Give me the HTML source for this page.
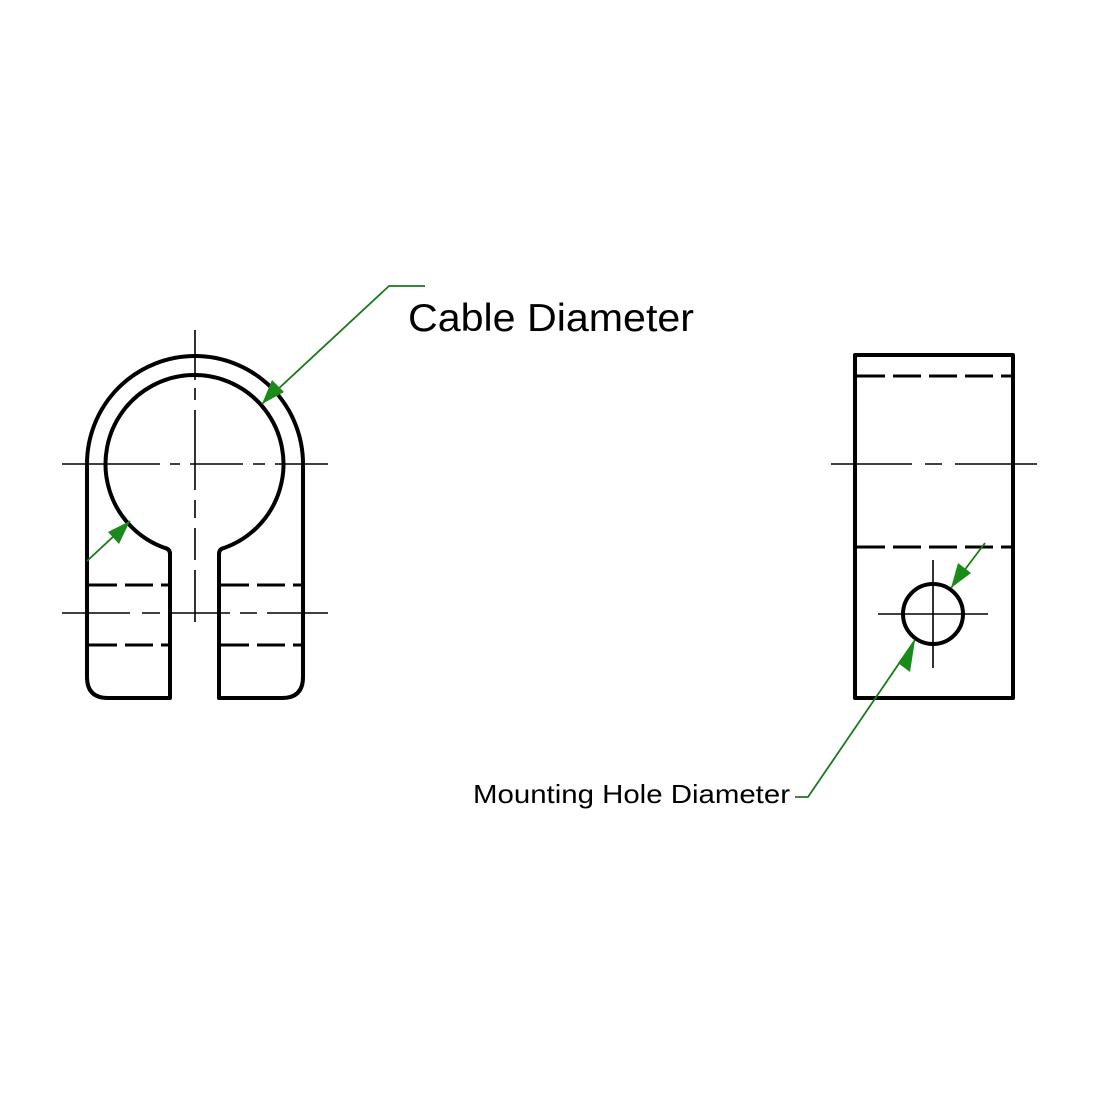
<!DOCTYPE html>
<html><head><style>html,body{margin:0;padding:0;background:#fff}svg{display:block}</style></head>
<body>
<svg width="1100" height="1100" viewBox="0 0 1100 1100" xmlns="http://www.w3.org/2000/svg">
<rect width="1100" height="1100" fill="#fff"/>
<g fill="none" stroke="#000" stroke-linejoin="round">
  <!-- left view outline -->
  <path stroke-width="4" d="M170,698 L170,554 Q170,549 165,548 A89,89 0 1 1 224,548 Q219,549 219,554 L219,698 L282,698 Q303,698 303,677 L303,464 A108,108 0 0 0 87,464 L87,677 Q87,698 108,698 Z"/>
  <!-- hidden lines -->
  <g stroke-width="3" stroke-dasharray="28,8">
    <line x1="89" y1="585" x2="168" y2="585"/>
    <line x1="89" y1="645" x2="168" y2="645"/>
    <line x1="221" y1="585" x2="301" y2="585"/>
    <line x1="221" y1="645" x2="301" y2="645"/>
  </g>
  <!-- centerlines -->
  <g stroke-width="1.6">
    <path d="M62,464 H160 M170,464 H180 M190,464 H243 M253,464 H265 M275,464 H328"/>
    <path d="M62,613 H130 M142,613 H160 M170,613 H230 M240,613 H257 M267,613 H328"/>
    <path d="M195,330 V380 M195,388 V400 M195,410 V490 M195,500 V518 M195,528 V560 M195,570 V622"/>
  </g>
  <!-- right view -->
  <rect x="855" y="355" width="158" height="343" stroke-width="4"/>
  <g stroke-width="3" stroke-dasharray="28,8">
    <line x1="857" y1="376" x2="1011" y2="376"/>
    <line x1="857" y1="547" x2="1011" y2="547"/>
  </g>
  <path stroke-width="1.6" d="M831,464 H912 M925,464 H942 M955,464 H1037"/>
  <circle cx="933" cy="614" r="30" stroke-width="4"/>
  <path stroke-width="1.6" d="M933,560 V668 M878,614 H988"/>
</g>
<!-- leaders -->
<g stroke="#1a7a1a" stroke-width="1.8" fill="none">
  <path d="M425,286 H389 L262,404"/>
  <path d="M87,561 L130,521"/>
  <path d="M985,543 L951,588"/>
  <path d="M915,640 L808,797 H795"/>
</g>
<g fill="#1a8a1a">
  <polygon points="262,404 272,380 284,392"/>
  <polygon points="130,521 108,532 119,544"/>
  <polygon points="951,588 958,563 971,573"/>
  <polygon points="915,640 898,663 910,672"/>
</g>
<text x="408" y="331" font-family="Liberation Sans, sans-serif" font-size="39" fill="#000" textLength="286" lengthAdjust="spacingAndGlyphs">Cable Diameter</text>
<text x="473" y="803" font-family="Liberation Sans, sans-serif" font-size="26" fill="#000" textLength="317" lengthAdjust="spacingAndGlyphs">Mounting Hole Diameter</text>
</svg>
</body></html>
